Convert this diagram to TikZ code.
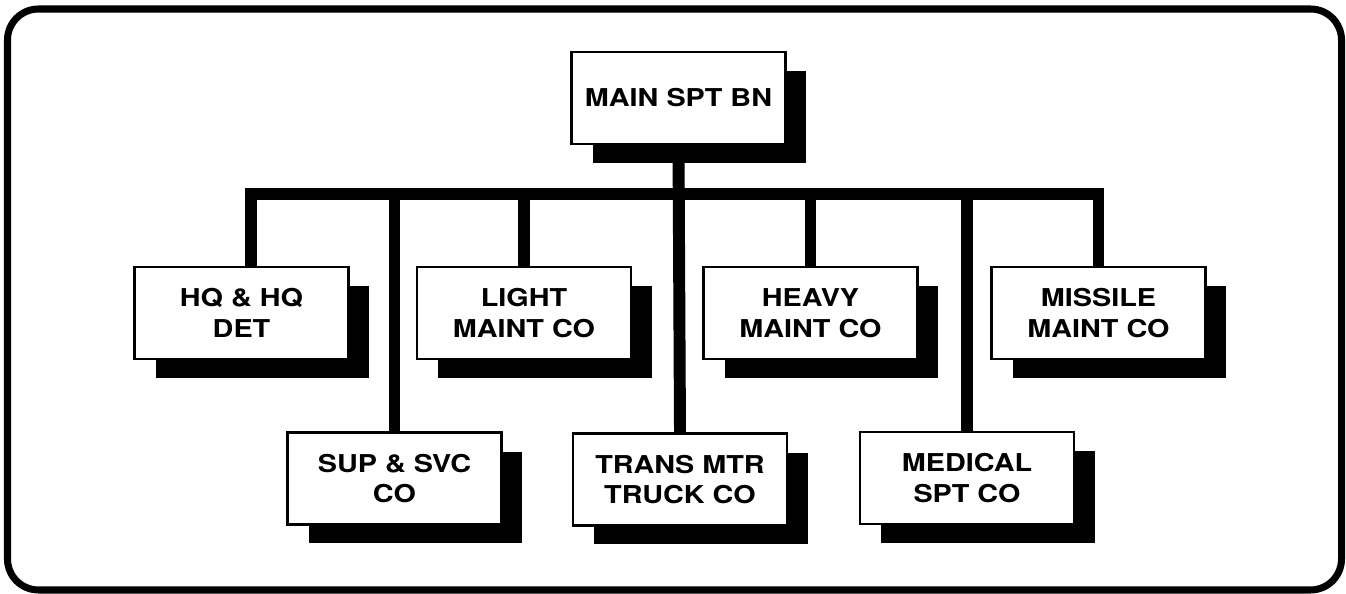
\documentclass[tikz,border=0pt]{standalone}
\usepackage{fontspec}
\newfontfamily\orgfont[FakeStretch=1.17]{TeX Gyre Heros}
\usetikzlibrary{shadows,calc,backgrounds}

\tikzset{
  unit/.style={draw, line width=1.3pt, fill=white, align=center,
    minimum width=4.28cm, minimum height=1.84cm, inner sep=0pt,
    font=\orgfont\bfseries\fontsize{14}{17.5}\selectfont,
    drop shadow={shadow xshift=0.42cm, shadow yshift=-0.38cm,
      fill=black, opacity=1}},
  link/.style={line width=6.8pt, line join=miter, line cap=butt}
}

\begin{document}
\begin{tikzpicture}[x=0.02cm, y=-0.02cm]
  \useasboundingbox (0,0) rectangle (1346,594);
  \draw[line width=4pt, rounded corners=0.62cm] (7.5,9) rectangle (1341.5,590);

  \coordinate (barline) at (0,194);

  \node[unit] (main) at (678.5,98) {MAIN SPT BN};

  \node[unit] (hq)    at (241.5,313) {HQ \& HQ\\DET};
  \node[unit] (light) at (524,313)   {LIGHT\\MAINT CO};
  \node[unit] (heavy) at (810.5,313) {HEAVY\\MAINT CO};
  \node[unit] (misl)  at (1098.5,313) {MISSILE\\MAINT CO};

  \node[unit] (sup)   at (394.5,478.5) {SUP \& SVC\\CO};
  \node[unit] (trans) at (680,479.5)   {TRANS MTR\\TRUCK CO};
  \node[unit] (med)   at (967,478)     {MEDICAL\\SPT CO};

  \begin{scope}[on background layer]
    \draw[link] ($(hq.north)+(9.5,0)$) |- (misl.north |- barline) -- (misl.north);
    \foreach \n in {sup,light,heavy,med}
      \draw[link] (\n.north) -- (\n.north |- barline);
    \draw[link] (main.south) -- (trans.north);
  \end{scope}
\end{tikzpicture}
\end{document}
